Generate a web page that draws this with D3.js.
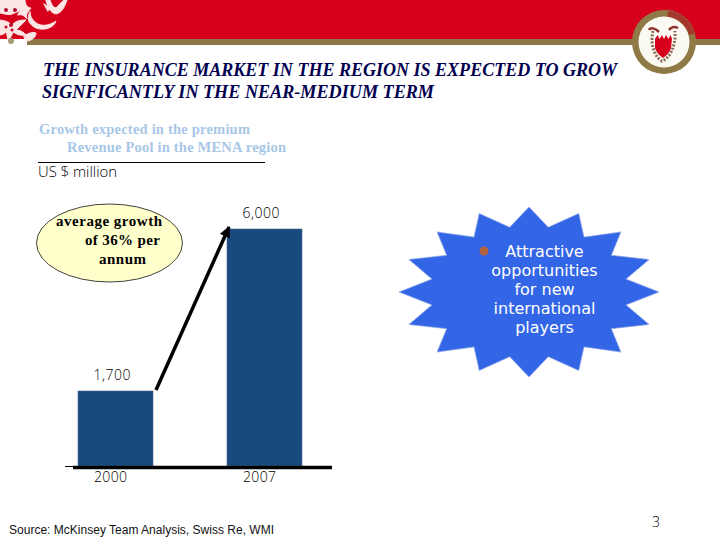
<!DOCTYPE html>
<html><head><meta charset="utf-8">
<script src="https://cdnjs.cloudflare.com/ajax/libs/d3/7.8.5/d3.min.js"></script>
<style>html,body{margin:0;padding:0;background:#fff}svg{display:block}</style>
</head><body><div id="c"></div>
<script>
const years = ["2000", "2007"];
const premiums = [1700, 6000];
const valueLabels = ["1,700", "6,000"];
const titleLines = ["THE INSURANCE MARKET IN THE REGION IS EXPECTED TO GROW", "SIGNFICANTLY IN THE NEAR-MEDIUM TERM"];
const subtitleLines = ["Growth expected in the premium", "Revenue Pool in the MENA region"];
const unitLabel = "US $ million";
const growthLines = ["average growth", "of 36% per", "annum"];
const starLines = ["Attractive", "opportunities", "for new", "international", "players"];
const sourceText = "Source: McKinsey Team Analysis, Swiss Re, WMI";
const pageNumber = "3";

const svg = d3.select("#c").append("svg").attr("width", 720).attr("height", 540);
const thin = "'Open Sans', 'DejaVu Sans', sans-serif", wide = "'DejaVu Sans', sans-serif", serif = "'Liberation Serif', serif";

// Header
svg.append("rect").attr("width", 720).attr("height", 40).attr("fill", "#d6001c");
svg.append("rect").attr("y", 39).attr("width", 720).attr("height", 6).attr("fill", "#8d7748");
svg.append("rect").attr("x", 0).attr("y", 39).attr("width", 27).attr("height", 6).attr("fill", "#fff");
// Left ornament
const orn = svg.append("g").attr("fill", "#fbe6e4").attr("stroke", "#fbe6e4").attr("stroke-linecap", "round").attr("stroke-linejoin", "round").attr("stroke-width", 1);
orn.append("path").attr("d", "M0 0L24 0C25 6 20 12 14 13C10 16 6 14 0 13Z");
orn.append("path").attr("d", "M25 0C25 5 28 8 31 8C28 12 25 15 27 19C24 15 21 14 18 15Z");
orn.append("path").attr("d", "M0 20C6 21 10 22 12 26C14 21 20 20 26 20C22 24 18 28 16 30C20 30 24 32 26 35C20 36 16 34 13 32C12 36 10 38 8 40C7 36 7 34 6 32C4 34 2 35 0 35Z");
orn.append("path").attr("d", "M30 12C30 20 38 27 47 25C52 24 56 21 56 21C54 28 44 31 36 28C29 25 26 18 30 12Z");
orn.append("path").attr("d", "M24 36C30 32 34 32 36 33C36 37 32 41 26 41Z");
orn.append("path").attr("d", "M46 0L50 0C52 6 55 10 58 6C60 3 63 1 64 0L67 0C65 6 62 13 56 14C50 13 47 6 46 0Z");
orn.append("path").attr("d", "M44 4L50 8L48 11Z");
[[6, 10], [15, 10], [11, 25]].forEach(c => svg.append("circle").attr("cx", c[0]).attr("cy", c[1]).attr("r", 2).attr("fill", "#b01030"));
[[12, 30], [6, 27]].forEach(c => svg.append("circle").attr("cx", c[0]).attr("cy", c[1]).attr("r", 1.500).attr("fill", "#d6001c"));
svg.append("circle").attr("cx", 11).attr("cy", 41).attr("r", 3).attr("fill", "#a89a78");
// Right seal
const seal = svg.append("g").attr("transform", "translate(664,42)");
seal.append("circle").attr("r", 32).attr("fill", "#8f7a45");
seal.append("path").attr("d", "M4 -32A32 32 0 0 1 31 -8L25 -7A25 25 0 0 0 3 -25Z").attr("fill", "#a5382c").attr("stroke", "#8f7a45").attr("stroke-dasharray", "2 2");
seal.append("circle").attr("r", 25.500).attr("fill", "#fbfaf2");
seal.append("path").attr("d", "M-11 -11C-14 0 -10 15 -2 19C6 16 12 4 11 -11").attr("fill", "none").attr("stroke", "#8a6a5a").attr("stroke-width", 3).attr("stroke-dasharray", "2 1.500");
seal.append("path").attr("d", "M-9 -3L-6.500 -7L-4.500 -3L-2 -7L0 -3L2 -7L4.500 -3L6.500 -7L8 -3L7 6Q5 12 -1 16Q-7 12 -9 6Z").attr("fill", "#d6001c");
seal.append("path").attr("d", "M-15 -12C-14 -15 -9 -14 -5 -10").attr("fill", "none").attr("stroke", "#8f3030").attr("stroke-width", 2.500);
seal.append("path").attr("d", "M5 -12C8 -16 12 -15 14 -14").attr("fill", "none").attr("stroke", "#8f3030").attr("stroke-width", 2.500);

// Title
const titleY = d3.scalePoint().domain(titleLines).range([76, 98]);
const titleW = [574, 392];
svg.append("g").selectAll("text").data(titleLines).join("text")
  .attr("x", (d, i) => i ? 42 : 43).attr("y", d => titleY(d)).text(d => d)
  .attr("textLength", (d, i) => titleW[i]).attr("lengthAdjust", "spacingAndGlyphs")
  .attr("font-family", serif).attr("font-weight", "bold").attr("font-style", "italic")
  .attr("font-size", 18).attr("fill", "#00004f");

// Subtitle
const subX = [39, 67], subW = [211, 219], subY = [134, 152];
svg.append("g").selectAll("text").data(subtitleLines).join("text")
  .attr("x", (d, i) => subX[i]).attr("y", (d, i) => subY[i]).text(d => d)
  .attr("textLength", (d, i) => subW[i]).attr("lengthAdjust", "spacing")
  .attr("font-family", serif).attr("font-weight", "bold").attr("font-size", 14.500).attr("fill", "#a8c7e6");
svg.append("line").attr("x1", 38).attr("x2", 265).attr("y1", 162.500).attr("y2", 162.500).attr("stroke", "#000");
svg.append("text").attr("x", 38).attr("y", 177).text(unitLabel)
  .attr("font-family", thin).attr("font-weight", 300).attr("font-size", 15).attr("textLength", 79).attr("lengthAdjust", "spacingAndGlyphs").attr("fill", "#000");

// Scales
const x = d3.scaleBand().domain(years).range([78, 302]).paddingInner(0.4966);
const y = d3.scaleLinear().domain([-291, 6000]).range([466, 229]);

// Bars
svg.append("g").selectAll("rect").data(years).join("rect")
  .attr("x", d => x(d)).attr("width", x.bandwidth())
  .attr("y", (d, i) => y(premiums[i])).attr("height", (d, i) => y(-291) - y(premiums[i]))
  .attr("fill", "#194a7d").attr("stroke", "#4d6d8d").attr("stroke-width", 0.6);

// Value labels
svg.append("g").selectAll("text").data(years).join("text")
  .attr("x", d => x(d) + x.bandwidth() / 2 - 3.500).attr("y", (d, i) => y(premiums[i]) - 11).text((d, i) => valueLabels[i])
  .attr("text-anchor", "middle").attr("font-family", thin).attr("font-weight", 300).attr("font-size", 14).attr("textLength", 37).attr("lengthAdjust", "spacing").attr("fill", "#000");

// Axis
const axis = svg.append("g").attr("transform", "translate(0,467)")
  .call(d3.axisBottom(x).tickSize(0).tickPadding(5));
axis.select(".domain").remove();
axis.selectAll("text").attr("font-family", thin).attr("font-weight", 300).attr("font-size", 14).attr("textLength", 33).attr("lengthAdjust", "spacing").attr("fill", "#000").attr("dx", -5);
svg.append("line").attr("x1", 73).attr("x2", 332).attr("y1", 467.500).attr("y2", 467.500).attr("stroke", "#000").attr("stroke-width", 3.500);
svg.append("line").attr("x1", 65).attr("x2", 74).attr("y1", 466.500).attr("y2", 466.500).attr("stroke", "#000").attr("stroke-width", 1);

// Growth arrow
const defs = svg.append("defs");
defs.append("marker").attr("id", "ah").attr("viewBox", "0 0 10 10").attr("refX", 9).attr("refY", 5)
  .attr("markerWidth", 3.200).attr("markerHeight", 3.200).attr("orient", "auto")
  .append("path").attr("d", "M0 0L10 5L0 10Z").attr("fill", "#000");
svg.append("line").attr("x1", 156).attr("y1", 390).attr("x2", 229).attr("y2", 227)
  .attr("stroke", "#000").attr("stroke-width", 3.500).attr("marker-end", "url(#ah)");

// Growth ellipse
svg.append("ellipse").attr("cx", 109.500).attr("cy", 243).attr("rx", 73).attr("ry", 39)
  .attr("fill", "#ffffcc").attr("stroke", "#111").attr("stroke-width", 0.8);
const gX = [109, 122.500, 122.500], gY = [226, 245, 264], gW = [106, 75, 47];
svg.append("g").selectAll("text").data(growthLines).join("text")
  .attr("x", (d, i) => gX[i]).attr("y", (d, i) => gY[i]).text(d => d)
  .attr("text-anchor", "middle").attr("textLength", (d, i) => gW[i]).attr("lengthAdjust", "spacing")
  .attr("font-family", serif).attr("font-weight", "bold").attr("font-size", 15).attr("fill", "#000");

// Star burst
const starN = 16, outer = [130, 85], inner = [99, 66];
const starPts = d3.range(starN * 2).map(i => {
  const a = i * Math.PI / starN, r = i % 2 ? inner : outer;
  return [529 + r[0] * Math.sin(a), 292 - r[1] * Math.cos(a)];
});
svg.append("path").attr("d", d3.line().curve(d3.curveLinearClosed)(starPts))
  .attr("fill", "#3366e6").attr("stroke", "#8fa8ee").attr("stroke-width", 0.7);
svg.append("circle").attr("cx", 484).attr("cy", 251).attr("r", 4.500).attr("fill", "#b5603f");
const starY = d3.scalePoint().domain(starLines).range([257, 333]);
svg.append("g").selectAll("text").data(starLines).join("text")
  .attr("x", 544.500).attr("y", d => starY(d)).text(d => d)
  .attr("text-anchor", "middle").attr("font-family", wide).attr("font-size", 16).attr("fill", "#fff");

// Footer
svg.append("text").attr("x", 9).attr("y", 534).text(sourceText)
  .attr("font-family", "'Liberation Sans', sans-serif").attr("font-size", 12).attr("textLength", 265).attr("lengthAdjust", "spacing").attr("fill", "#111");
svg.append("text").attr("x", 652).attr("y", 527).text(pageNumber)
  .attr("font-family", thin).attr("font-weight", 300).attr("font-size", 14).attr("fill", "#000");
</script></body></html>
